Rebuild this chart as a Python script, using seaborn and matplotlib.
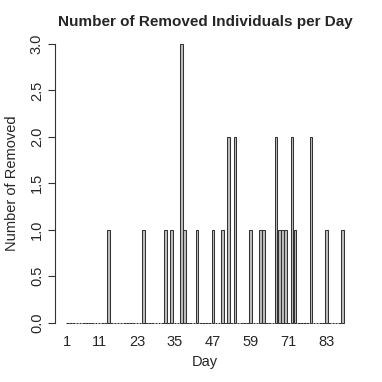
import numpy as np
import pandas as pd
import matplotlib
matplotlib.use("Agg")
import matplotlib.pyplot as plt
import seaborn as sns

# days on which individuals were removed, and how many
removal_days = [14, 25, 32, 34, 37, 38, 42, 47, 50, 52, 54, 59, 62, 63,
                67, 68, 69, 70, 72, 73, 78, 83, 88]
removal_counts = [1, 1, 1, 1, 3, 1, 1, 1, 1, 2, 2, 1, 1, 1,
                  2, 1, 1, 1, 2, 1, 2, 1, 1]
last_day = 88

x_tick_days = [1, 11, 23, 35, 47, 59, 71, 83]
y_ticks = [0.0, 0.5, 1.0, 1.5, 2.0, 2.5, 3.0]

# every day gets a bar, days without removals are zero
counts = pd.Series(removal_counts, index=removal_days).reindex(
    range(1, last_day + 1), fill_value=0)
df = pd.DataFrame({"Day": counts.index, "Removed": counts.values})

sns.set_style("white")
plt.rcParams["font.family"] = ["Liberation Sans", "DejaVu Sans"]

fig = plt.figure(figsize=(3.82, 3.82), dpi=100)
ax = fig.add_axes([0.144, 0.126, 0.785, 0.788])

sns.barplot(data=df, x="Day", y="Removed", native_scale=True, width=0.833,
            color="#BEBEBE", saturation=1, edgecolor="#333333",
            linewidth=0.75, errorbar=None, ax=ax)

ax.set_xlim(-2.93, 91.93)
ax.set_ylim(-0.12, 3.12)

ax.set_xticks(x_tick_days)
ax.set_xticklabels([str(d) for d in x_tick_days], fontsize=10.5)
ax.tick_params(axis="x", length=0, pad=1)

ax.set_yticks(y_ticks)
ax.set_yticklabels([f"{v:.1f}" for v in y_ticks], fontsize=10.5,
                   rotation=90, va="center")
ax.tick_params(axis="y", length=5, width=0.8, color="#333333", pad=3,
               left=True)

for side in ["top", "right", "bottom"]:
    ax.spines[side].set_visible(False)
ax.spines["left"].set_bounds(0, 3)
ax.spines["left"].set_linewidth(0.8)
ax.spines["left"].set_color("#333333")

ax.set_xlabel("Day", fontsize=10.5, labelpad=4)
ax.set_ylabel("Number of Removed", fontsize=10.5, labelpad=8)
ax.set_title("Number of Removed Individuals per Day", fontsize=11,
             fontweight="bold", pad=5)

fig.savefig("out.png", dpi=100)
